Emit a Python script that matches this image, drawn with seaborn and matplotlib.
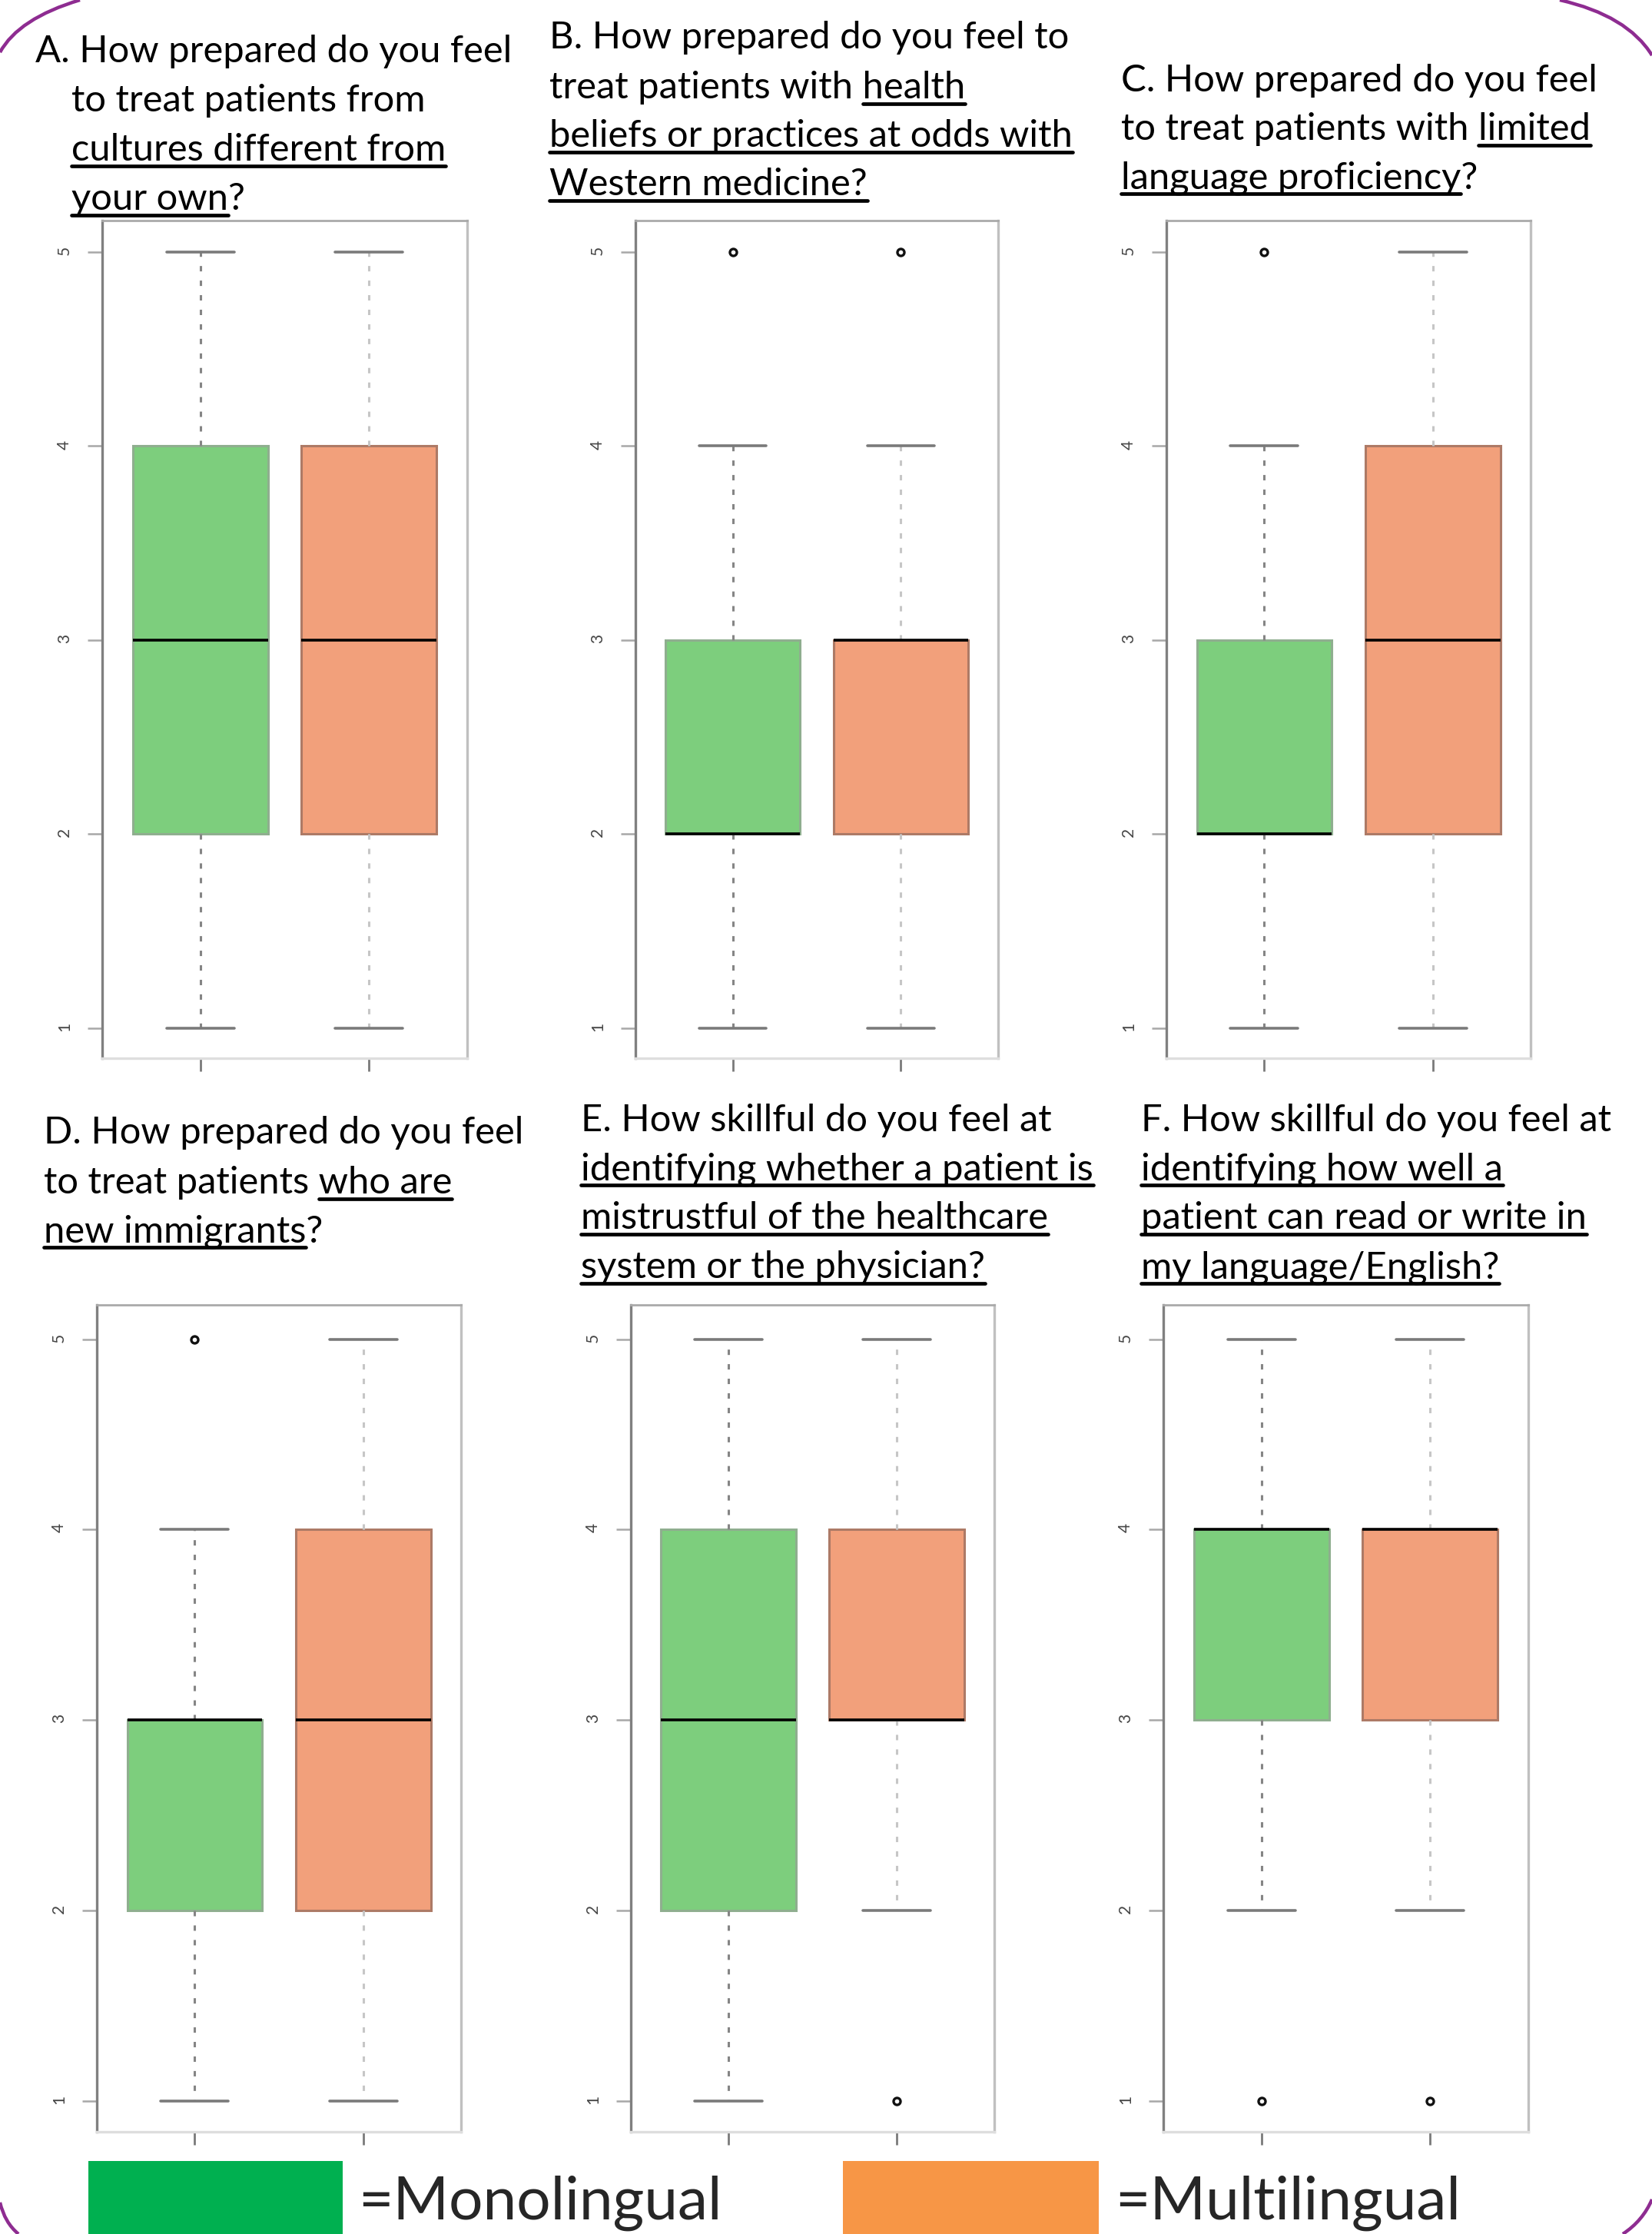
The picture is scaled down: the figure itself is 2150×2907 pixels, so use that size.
"""
Boxplots of self-rated cultural preparedness, monolingual vs multilingual.
"""
import matplotlib
matplotlib.use('Agg')  # Use non-interactive backend
import matplotlib.pyplot as plt
import seaborn as sns
import pandas as pd
from matplotlib.lines import Line2D
from matplotlib.patches import Rectangle, PathPatch
from matplotlib.path import Path

# Likert responses (1-5) for each question, per group
groups = ['Monolingual', 'Multilingual']
mono_a = [1, 2, 3, 4, 5]
multi_a = [1, 2, 3, 4, 5]
mono_b = [1, 2, 2, 2, 2, 3, 3, 4, 5]
multi_b = [1, 2, 2, 3, 3, 3, 3, 4, 5]
mono_c = [1, 2, 2, 2, 2, 3, 3, 4, 5]
multi_c = [1, 2, 3, 4, 5]
mono_d = [1, 2, 2, 3, 3, 3, 3, 4, 5]
multi_d = [1, 2, 3, 4, 5]
mono_e = [1, 2, 3, 4, 5]
multi_e = [1, 2, 3, 3, 3, 3, 4, 4, 5]
mono_f = [1, 2, 3, 4, 4, 4, 4, 4, 5]
multi_f = [1, 2, 3, 4, 4, 4, 4, 4, 5]
y_ticks = [1, 2, 3, 4, 5]

# titles, underlined parts between underscores
title_a = ["A. How prepared do you feel", "to treat patients from",
           "_cultures different from_", "_your own_?"]
title_b = ["B. How prepared do you feel to", "treat patients with _health_",
           "_beliefs or practices at odds with_", "_Western medicine?_"]
title_c = ["C. How prepared do you feel", "to treat patients with _limited_",
           "_language proficiency_?"]
title_d = ["D. How prepared do you feel", "to treat patients _who are_",
           "_new immigrants_?"]
title_e = ["E. How skillful do you feel at", "_identifying whether a patient is_",
           "_mistrustful of the healthcare_", "_system or the physician?_"]
title_f = ["F. How skillful do you feel at", "_identifying how well a_",
           "_patient can read or write in_", "_my language/English?_"]
legend_labels = ['=Monolingual', '=Multilingual']

GREEN = '#7dce7d'
ORANGE = '#f2a07b'
W, H = 2150, 2907

sns.set_style('white')
plt.rcParams['font.family'] = ['Lato', 'DejaVu Sans']

fig = plt.figure(figsize=(W / 100, H / 100), dpi=100)
renderer = fig.canvas.get_renderer()


def px_axes(left, right, top, bottom):
    return fig.add_axes([left / W, 1 - bottom / H, (right - left) / W, (bottom - top) / H])


def draw_panel(ax, mono, multi, ylim):
    specs = [(mono, groups[0], GREEN, '#8fae8f', '#858585'),
             (multi, groups[1], ORANGE, '#ad7a66', '#c6c6c6')]
    for scores, name, fill, edge, wcolor in specs:
        df = pd.DataFrame({'group': [name] * len(scores), 'score': scores})
        sns.boxplot(data=df, x='group', y='score', order=groups, color=fill,
                    saturation=1, width=0.8, linewidth=2.2, linecolor=edge,
                    fliersize=6.5,
                    whiskerprops={'linestyle': (0, (2.3, 3.9)), 'color': wcolor},
                    capprops={'color': '#7a7a7a', 'linewidth': 2.6},
                    medianprops={'color': 'black', 'linewidth': 2.6},
                    flierprops={'marker': 'o', 'markerfacecolor': 'white',
                                'markeredgecolor': '#111111', 'markeredgewidth': 2.4},
                    ax=ax)
    ax.set_xlim(-0.58, 1.58)
    ax.set_ylim(*ylim)
    ax.set_yticks(y_ticks)
    ax.set_yticklabels([str(v) for v in y_ticks])
    ax.set_xticks([0, 1])
    ax.set_xticklabels(['', ''])
    ax.set_xlabel('')
    ax.set_ylabel('')
    ax.tick_params(axis='y', left=True, length=14, width=1.8, color='#a8a8a8',
                   pad=14, labelsize=15, labelcolor='#444444', labelrotation=90)
    ax.tick_params(axis='x', bottom=True, length=12, width=2, color='#7a7a7a')
    ax.xaxis.get_major_ticks()[1].tick1line.set_color('#d0d0d0')
    for side, col, lw in [('left', '#808080', 2.4), ('top', '#aaaaaa', 2.0),
                          ('right', '#c0c0c0', 2.4), ('bottom', '#dedede', 2.4)]:
        ax.spines[side].set_visible(True)
        ax.spines[side].set_color(col)
        ax.spines[side].set_linewidth(lw)


def text_width(s, size):
    t = fig.text(0, 0, s, fontsize=size)
    w = t.get_window_extent(renderer).width
    t.remove()
    return w


def draw_title(lines, x0, x_rest, baselines, size):
    space_w = text_width('a a', size) - text_width('aa', size)
    for i, (raw, base) in enumerate(zip(lines, baselines)):
        x = x0 if i == 0 else x_rest
        parts = raw.split('_')
        plain = ''.join(parts)
        fig.text(x / W, 1 - base / H, plain, fontsize=size, va='baseline', ha='left',
                 color='black')
        pos = 0
        for k, part in enumerate(parts):
            if k % 2 == 1 and part:
                prefix = plain[:pos]
                start = 0
                if prefix:
                    start = text_width(prefix.rstrip(), size) + space_w
                end = text_width(prefix + part, size)
                uy = 1 - (base + 7) / H
                fig.add_artist(Line2D([(x + start) / W, (x + end) / W], [uy, uy],
                                      color='black', linewidth=3.4,
                                      transform=fig.transFigure))
            pos += len(part)


# boxplot panels
row1 = (0.845, 5.162)
row2 = (0.837, 5.18)
panels = [
    (133, 608, 287, 1377, mono_a, multi_a, row1),
    (827, 1299, 287, 1377, mono_b, multi_b, row1),
    (1518, 1992, 287, 1377, mono_c, multi_c, row1),
    (126, 600, 1698, 2774, mono_d, multi_d, row2),
    (821, 1294, 1698, 2774, mono_e, multi_e, row2),
    (1514, 1989, 1698, 2774, mono_f, multi_f, row2),
]
for left, right, top, bottom, mono, multi, ylim in panels:
    ax = px_axes(left, right, top, bottom)
    draw_panel(ax, mono, multi, ylim)

# titles, sized so the first line of A fits its width
title_size = 40 * 619 / text_width(title_a[0], 40)
draw_title(title_a, 46, 93, [81, 145, 209, 273], title_size)
draw_title(title_b, 715, 715, [63, 128, 191, 254], title_size)
draw_title(title_c, 1459, 1459, [119, 182, 245], title_size)
draw_title(title_d, 57, 57, [1488, 1553, 1616], title_size)
draw_title(title_e, 756, 756, [1472, 1535, 1599, 1663], title_size)
draw_title(title_f, 1485, 1485, [1472, 1535, 1599, 1663], title_size)

# legend swatches
legend_size = 50 * 474 / text_width(legend_labels[0], 50)
for x0, x1, col, label, tx in [(115, 446, '#00b050', legend_labels[0], 466),
                               (1097, 1430, '#f79646', legend_labels[1], 1451)]:
    fig.add_artist(Rectangle((x0 / W, 0), (x1 - x0) / W, (2907 - 2812) / H,
                             facecolor=col, edgecolor='none', transform=fig.transFigure))
    fig.text(tx / W, 1 - 2888 / H, label, fontsize=legend_size, va='baseline', ha='left')

# purple frame corners
PURPLE = '#8e2c91'
corners = [[(0, 68), (24, 24), (104, 0)],
           [(2030, 0), (2118, 20), (2150, 72)],
           [(0, 2866), (6, 2892), (24, 2907)],
           [(2112, 2907), (2138, 2890), (2150, 2862)]]
for pts in corners:
    verts = [(x / W, 1 - y / H) for x, y in pts]
    path = Path(verts, [Path.MOVETO, Path.CURVE3, Path.CURVE3])
    fig.add_artist(PathPatch(path, facecolor='none', edgecolor=PURPLE, linewidth=3.2,
                             transform=fig.transFigure, clip_on=False))

fig.savefig('out.png', dpi=100, facecolor='white')
plt.close(fig)
